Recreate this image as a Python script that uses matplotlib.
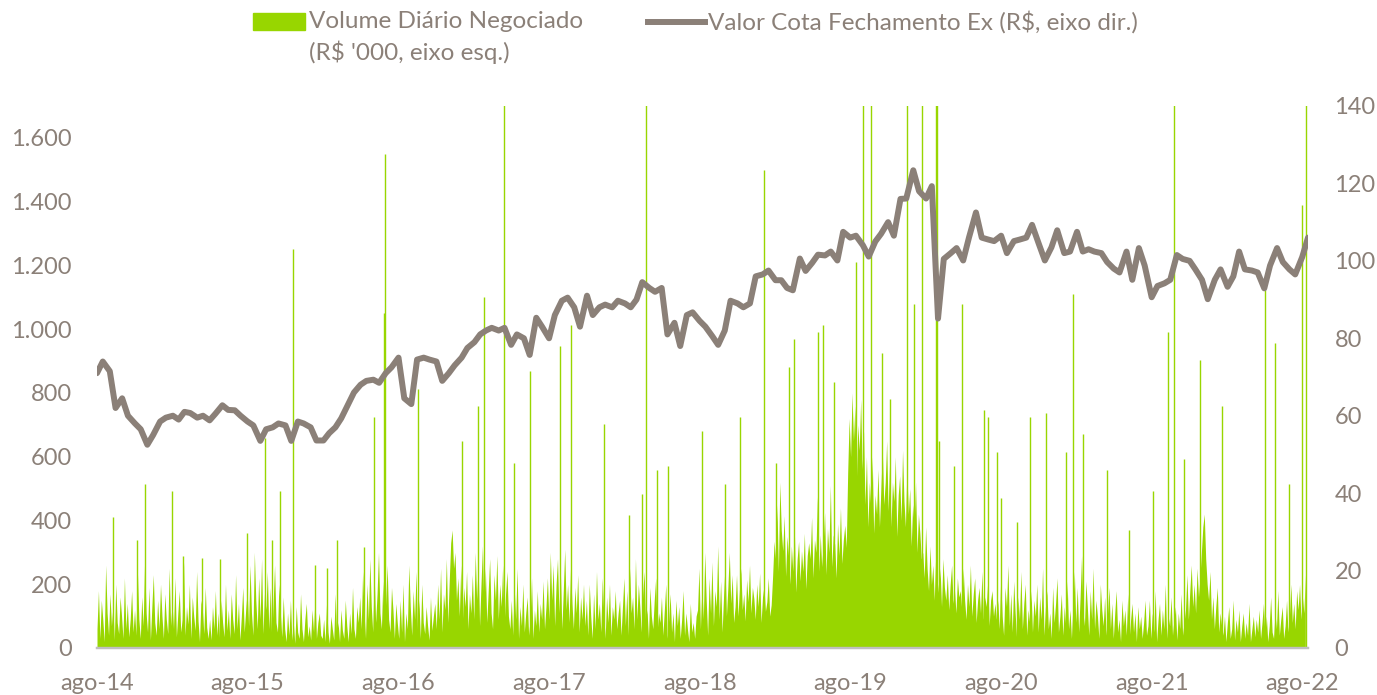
import matplotlib

matplotlib.use("Agg")
import matplotlib.pyplot as plt
import pandas as pd
from matplotlib.lines import Line2D
from matplotlib.patches import Rectangle

GREEN = "#98d600"
GREY = "#8b8078"
AXIS = "#bfbfbf"

plt.rcParams["font.family"] = ["Lato", "DejaVu Sans"]

# ── Valor cota (R$, eixo dir.), semi-monthly, ago-14 .. ago-22 ────────
price_values = [
    71, 74, 71.5, 62, 64.5, 60, 58, 56.5, 52.5, 55, 58.5, 59.5,
    60, 59, 61, 60.7, 59.5, 60, 58.8, 60.5, 62.7, 61.5, 61.4, 60,
    58.5, 57.5, 53.5, 56.5, 57, 58, 57.5, 53.5, 58.5, 58, 57, 53.6,
    53.6, 55.5, 57, 59.3, 63, 66, 68, 69, 69.3, 68.5, 71, 72.5,
    75, 64.5, 63, 74.5, 75, 74.5, 74, 69, 71, 73, 75, 77.5,
    79, 81, 82, 82.7, 82, 82.7, 78.3, 81, 80, 75.7, 85.3, 83,
    80, 86, 89.7, 90.5, 88, 83, 91, 86, 88, 88.7, 88, 89.7,
    89, 88, 90, 94.5, 93, 92, 93, 81, 84, 78, 86, 86.7,
    84.5, 83, 80.5, 78.3, 82, 89.7, 89, 88, 89, 96, 96.5, 97.5,
    95, 95, 93, 92.4, 100.6, 97.4, 99.5, 101.6, 101.4, 102.4, 100.1, 107.5,
    106, 106.5, 104, 101.1, 105, 107, 110, 106.5, 116, 116.1, 123.4, 118,
    116.1, 119.3, 85.1, 100.5, 102, 103.3, 100.1, 106, 112.5, 106, 105.5, 105.1,
    106.5, 102, 105.1, 105.5, 106, 109.3, 104.2, 100.1, 103.5, 107.9, 102, 102.4,
    107.5, 102.4, 103, 102.4, 102, 99.7, 98, 97, 102.4, 95.1, 103.3, 98.8,
    90.6, 93.5, 94.2, 95.1, 101.5, 100.5, 100, 97.8, 95.1, 90.1, 95.1, 97.8,
    93.3, 96, 102.4, 97.8, 97.5, 97, 92.9, 98.8, 103.3, 99.7, 97.8, 96.5,
    101, 106,
]
price_dates = pd.date_range("2014-08-01", periods=len(price_values), freq="SMS")

# ── Volume diário (R$ '000, eixo esq.), twice a week ──────────────────
volume_values = [
    # ago-14 .. jul-15
    60, 180, 30, 150, 90, 20, 260, 110, 40, 170, 70, 130, 25, 200, 80, 45, 160, 100, 30, 220, 60, 140, 35, 90, 180, 50,
    120, 40, 240, 90, 30, 160, 70, 280, 110, 50, 190, 25, 130, 230, 80, 40, 150, 60, 200, 100, 30, 170, 90, 45, 250, 70,
    140, 60, 220, 35, 110, 180, 50, 90, 270, 40, 130, 75, 200, 30, 160, 100, 55, 240, 85, 20, 150, 120, 45, 190, 65, 30,
    90, 25, 130, 60, 180, 40, 110, 20, 150, 80, 35, 200, 55, 120, 30, 170, 90, 45, 230, 60, 140, 25, 100, 190, 50, 120,
    # ago-15 .. jul-16
    180, 70, 260, 110, 40, 300, 150, 60, 220, 90, 280, 45, 170, 120, 240, 60, 190, 30, 140, 260, 80, 50, 200, 110, 35, 160,
    60, 20, 110, 40, 150, 25, 80, 15, 130, 50, 30, 170, 60, 20, 90, 140, 35, 70, 25, 120, 50, 160, 30, 80, 110, 40,
    30, 90, 20, 140, 50, 15, 100, 60, 25, 170, 40, 80, 20, 120, 55, 30, 150, 70, 20, 110, 45, 190, 60, 30, 130, 80,
    160, 60, 240, 110, 30, 200, 90, 280, 130, 50, 230, 80, 170, 300, 110, 60, 210, 40, 150, 260, 90, 50, 190, 120, 30, 140,
    # ago-16 .. jul-17
    80, 30, 150, 50, 200, 20, 110, 60, 260, 130, 40, 180, 90, 240, 60, 150, 30, 200, 80, 45, 130, 70, 25, 160, 55, 100,
    140, 60, 200, 90, 250, 50, 170, 120, 280, 80, 210, 330, 370, 250, 300, 150, 220, 100, 260, 70, 190, 130, 240, 60, 170, 110,
    230, 90, 300, 150, 260, 70, 200, 320, 120, 250, 80, 180, 280, 110, 60, 230, 150, 290, 90, 200, 130, 260, 70, 170, 240, 100,
    60, 150, 40, 190, 90, 250, 30, 130, 70, 200, 50, 110, 160, 40, 90, 220, 30, 120, 70, 180, 50, 140, 90, 210, 60, 130,
    # ago-17 .. jul-18
    220, 90, 300, 150, 260, 70, 200, 280, 110, 240, 60, 180, 310, 120, 200, 80, 250, 140, 60, 190, 110, 230, 50, 160, 90, 200,
    70, 150, 40, 200, 100, 30, 170, 60, 240, 90, 140, 50, 220, 110, 30, 160, 80, 200, 40, 130, 90, 180, 60, 110, 150, 40,
    130, 220, 70, 180, 40, 250, 110, 160, 60, 280, 90, 200, 130, 50, 170, 240, 80, 120, 30, 190, 100, 60, 150, 220, 50, 110,
    80, 160, 40, 120, 200, 30, 90, 170, 50, 110, 20, 150, 70, 130, 30, 90, 180, 40, 110, 60, 20, 140, 50, 80, 30, 100,
    # ago-18 .. jul-19
    120, 250, 60, 190, 90, 300, 150, 40, 220, 110, 270, 70, 180, 130, 320, 90, 210, 50, 160, 260, 100, 190, 300, 140, 230, 80,
    130, 230, 100, 180, 250, 120, 170, 85, 215, 145, 260, 110, 190, 155, 90, 200, 130, 235, 80, 160, 195, 115, 145, 220, 100, 135,
    225, 335, 280, 450, 240, 520, 370, 305, 415, 225, 350, 290, 200, 320, 240, 385, 175, 280, 335, 210, 305, 240, 360, 185, 290, 330,
    280, 410, 220, 340, 300, 475, 240, 355, 255, 325, 425, 230, 375, 300, 510, 255, 355, 325, 220, 390, 290, 440, 265, 340, 385, 315,
    # ago-19 .. jul-20
    550, 720, 600, 800, 650, 760, 520, 700, 620, 780, 560, 680, 450, 600, 380, 520, 440, 600, 360, 480, 420, 560, 380, 500, 620, 450,
    520, 650, 430, 580, 380, 520, 460, 600, 350, 480, 540, 400, 620, 460, 380, 560, 420, 500, 320, 450, 380, 520, 300, 420, 360, 280,
    300, 220, 380, 250, 180, 320, 200, 260, 150, 300, 210, 170, 250, 130, 280, 190, 150, 230, 120, 200, 260, 140, 180, 110, 220, 160,
    180, 120, 250, 150, 90, 200, 130, 260, 100, 170, 220, 80, 150, 190, 110, 240, 90, 160, 130, 210, 70, 150, 180, 100, 140, 90,
    # ago-20 .. jul-21
    150, 60, 220, 100, 40, 190, 130, 260, 70, 170, 50, 210, 110, 30, 160, 90, 240, 60, 140, 200, 40, 120, 80, 180, 50, 150,
    100, 200, 50, 160, 90, 250, 40, 130, 180, 60, 110, 30, 190, 80, 140, 220, 50, 100, 170, 40, 130, 70, 210, 60, 120, 30,
    130, 240, 80, 190, 50, 160, 290, 110, 70, 210, 130, 40, 180, 90, 250, 60, 150, 100, 30, 200, 120, 70, 160, 40, 110, 190,
    60, 140, 30, 110, 180, 50, 90, 20, 150, 70, 120, 40, 170, 30, 90, 140, 50, 110, 20, 130, 60, 100, 30, 80, 150, 40,
    # ago-21 .. ago-22
    70, 150, 30, 110, 50, 180, 20, 90, 140, 40, 120, 60, 200, 30, 100, 70, 160, 40, 90, 130, 25, 110, 60, 170, 40, 80,
    120, 230, 90, 180, 260, 130, 200, 110, 250, 160, 220, 300, 380, 420, 280, 200, 150, 240, 90, 160, 60, 130, 190, 50, 110, 70,
    40, 100, 20, 80, 130, 30, 60, 150, 25, 90, 50, 120, 20, 70, 110, 30, 80, 40, 140, 20, 60, 100, 35, 90, 50, 120,
    30, 80, 140, 40, 100, 20, 70, 160, 50, 30, 110, 60, 180, 40, 90, 130, 30, 70, 150, 50, 100, 200, 80, 140, 60, 180,
    120, 200, 90, 160, 110, 230,
]
volume_dates = pd.date_range("2014-08-01", periods=len(volume_values), freq="84h")

# single-day volume peaks (R$ '000)
spike_dates = [
    "2014-09-09", "2014-11-06", "2014-11-25", "2015-01-30", "2015-02-26",
    "2015-04-12", "2015-05-25", "2015-07-30",
    "2015-09-12", "2015-09-29", "2015-10-18", "2015-11-19", "2016-01-12",
    "2016-02-10", "2016-03-04", "2016-05-09", "2016-06-03", "2016-06-27",
    "2016-06-30",
    "2016-09-18", "2017-01-03", "2017-02-10", "2017-02-24", "2017-04-13",
    "2017-05-08", "2017-06-16",
    "2017-08-28", "2017-09-22", "2017-12-13", "2018-02-12", "2018-03-14",
    "2018-03-23", "2018-04-20", "2018-05-16",
    "2018-08-07", "2018-10-01", "2018-11-08", "2019-01-03", "2019-02-01",
    "2019-03-05", "2019-03-19", "2019-05-15", "2019-05-27", "2019-06-24",
    "2019-08-15", "2019-09-02", "2019-09-20", "2019-10-17", "2019-11-06",
    "2019-12-17", "2020-01-03", "2020-01-23", "2020-02-26", "2020-02-28",
    "2020-03-04", "2020-04-09", "2020-04-29", "2020-06-21", "2020-06-29",
    "2020-07-22", "2020-07-31",
    "2020-09-08", "2020-10-09", "2020-11-19", "2021-01-05", "2021-01-22",
    "2021-02-15", "2021-04-15", "2021-06-08", "2021-08-03",
    "2021-09-09", "2021-09-24", "2021-10-19", "2021-11-26", "2022-01-18",
    "2022-05-03", "2022-05-27", "2022-07-01", "2022-08-01", "2022-08-10",
]
spike_values = [
    410, 339, 515, 493, 289, 283, 278, 361,
    659, 339, 493, 1250, 261, 250, 339, 317, 725, 1050, 1550,
    813, 648, 758, 1101, 1900, 581, 869,
    946, 1012, 703, 416, 482, 1900, 559, 570,
    681, 515, 725, 1498, 581, 880, 968, 990, 1012, 835,
    1211, 1900, 1900, 924, 780, 1900, 1079, 1900, 1900, 1900, 648, 570,
    1079, 747, 725, 615, 471,
    394, 725, 736, 615, 1111, 670, 559, 371, 493,
    990, 1900, 593, 902, 759, 1123, 957, 515, 1388, 1900,
]

left_ticks = [0, 200, 400, 600, 800, 1000, 1200, 1400, 1600]
right_ticks = [0, 20, 40, 60, 80, 100, 120, 140]
x_tick_dates = pd.to_datetime([f"{y}-08-01" for y in range(2014, 2023)])
x_tick_labels = ["ago-14", "ago-15", "ago-16", "ago-17", "ago-18",
                 "ago-19", "ago-20", "ago-21", "ago-22"]

W, H = 1377, 695
fig = plt.figure(figsize=(W / 100, H / 100), dpi=100)
ax = fig.add_axes([97 / W, 1 - 648 / H, (1308 - 97) / W, (648 - 106) / H])
ax2 = ax.twinx()

ax.fill_between(volume_dates, 0, volume_values, color=GREEN, linewidth=0)
ax.vlines(pd.to_datetime(spike_dates), 0, spike_values, color=GREEN, linewidth=1.0)

ax2.plot(price_dates, price_values, color=GREY, linewidth=4.3,
         solid_joinstyle="round", solid_capstyle="round")

ax.set_xlim(pd.Timestamp("2014-08-01"), pd.Timestamp("2022-08-15"))
ax.set_ylim(0, 1700)
ax2.set_ylim(0, 140)

ax.set_yticks(left_ticks)
ax.set_yticklabels([f"{v:,}".replace(",", ".") for v in left_ticks])
ax2.set_yticks(right_ticks)
ax.set_xticks(x_tick_dates)
ax.set_xticklabels(x_tick_labels)

for a in (ax, ax2):
    for side in ("top", "left", "right"):
        a.spines[side].set_visible(False)
    a.spines["bottom"].set_color(AXIS)
    a.spines["bottom"].set_linewidth(1.6)
    a.tick_params(colors=GREY, labelsize=17, length=0)
ax.tick_params(axis="y", pad=18)
ax.tick_params(axis="x", pad=18)
ax2.tick_params(axis="y", pad=19)

# legend, drawn by hand to keep the two-line label aligned at the top
fig.patches.append(Rectangle((253 / W, 1 - 30 / H), 52 / W, 17 / H,
                             transform=fig.transFigure, color=GREEN))
fig.text(309 / W, 1 - 22 / H, "Volume Diário Negociado", color=GREY,
         fontsize=17.5, va="center", ha="left")
fig.text(309 / W, 1 - 52 / H, "(R$ '000, eixo esq.)", color=GREY,
         fontsize=17.5, va="center", ha="left")
fig.lines.append(Line2D([648 / W, 705 / W], [1 - 22 / H, 1 - 22 / H],
                        transform=fig.transFigure, color=GREY, linewidth=4.3))
fig.text(708 / W, 1 - 22 / H, "Valor Cota Fechamento Ex (R$, eixo dir.)",
         color=GREY, fontsize=17.5, va="center", ha="left")

fig.savefig("out.png", dpi=100)
